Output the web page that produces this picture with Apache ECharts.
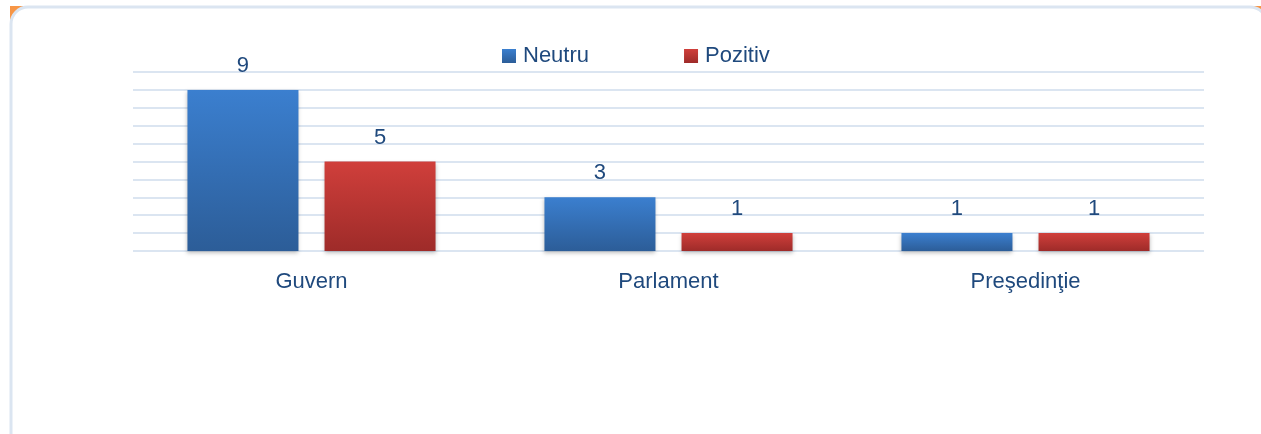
<!DOCTYPE html>
<html>
<head>
<meta charset="utf-8">
<script src="https://cdn.jsdelivr.net/npm/echarts@6/dist/echarts.min.js"></script>
<style>
    html, body { margin: 0; padding: 0; background: #ffffff; }
    #chart { width: 1261px; height: 434px; }
</style>
</head>
<body>
<div id="chart"></div>
<script>
var categories = ['Guvern', 'Parlament', 'Preşedinţie'];
var neutru = [9, 3, 1];
var pozitiv = [5, 1, 1];
var seriesNames = ['Neutru', 'Pozitiv'];

var textColor = '#1f497d';
var fontFamily = '"Liberation Sans", "DejaVu Sans", sans-serif';

function vGradient(top, bottom) {
    return new echarts.graphic.LinearGradient(0, 0, 0, 1, [
        { offset: 0, color: top },
        { offset: 1, color: bottom }
    ]);
}

function renderChart(chartDivId) {
    var chart = echarts.init(document.getElementById(chartDivId));

    var options = {
        backgroundColor: '#ffffff',
        animation: false,
        textStyle: { fontFamily: fontFamily },
        graphic: [
            // orange frame behind, white rounded panel on top
            {
                type: 'rect',
                silent: true,
                z: -10,
                shape: { x: 10, y: 6, width: 1260, height: 440 },
                style: { fill: '#f79646' }
            },
            {
                type: 'rect',
                silent: true,
                z: -9,
                shape: { x: 11, y: 7, width: 1256, height: 450, r: 17 },
                style: { fill: '#ffffff', stroke: '#dbe5f1', lineWidth: 3 }
            }
        ],
        legend: {
            data: seriesNames,
            top: 40,
            left: 497,
            itemWidth: 14,
            itemHeight: 14,
            itemGap: 95,
            icon: 'rect',
            textStyle: { color: textColor, fontSize: 22, padding: [0, 0, 0, 2] }
        },
        grid: {
            left: 133,
            right: 57,
            top: 72,
            bottom: 183,
            containLabel: false
        },
        xAxis: {
            type: 'category',
            data: categories,
            axisLine: { show: false },
            axisTick: { show: false },
            axisLabel: { color: textColor, fontSize: 22, margin: 20 }
        },
        yAxis: {
            type: 'value',
            min: 0,
            max: 10,
            interval: 1,
            axisLabel: { show: false },
            axisLine: { show: false },
            axisTick: { show: false },
            splitLine: { lineStyle: { color: '#dbe5f1', width: 2 } }
        },
        series: [
            {
                name: 'Neutru',
                type: 'bar',
                data: neutru,
                barWidth: 111,
                barGap: '23.5%',
                itemStyle: {
                    color: vGradient('#3b7fcf', '#2c5d98'),
                    shadowColor: 'rgba(0,0,0,0.25)',
                    shadowBlur: 4,
                    shadowOffsetY: 2
                },
                label: {
                    show: true,
                    position: 'top',
                    distance: 13,
                    color: textColor,
                    fontSize: 22
                }
            },
            {
                name: 'Pozitiv',
                type: 'bar',
                data: pozitiv,
                barWidth: 111,
                itemStyle: {
                    color: vGradient('#d03f3b', '#9e2b29'),
                    shadowColor: 'rgba(0,0,0,0.25)',
                    shadowBlur: 4,
                    shadowOffsetY: 2
                },
                label: {
                    show: true,
                    position: 'top',
                    distance: 13,
                    color: textColor,
                    fontSize: 22
                }
            }
        ]
    };

    chart.setOption(options);
    chart.resize();
    window.onresize = function() {
        chart.resize();
    };
}

renderChart('chart');
</script>
</body>
</html>
